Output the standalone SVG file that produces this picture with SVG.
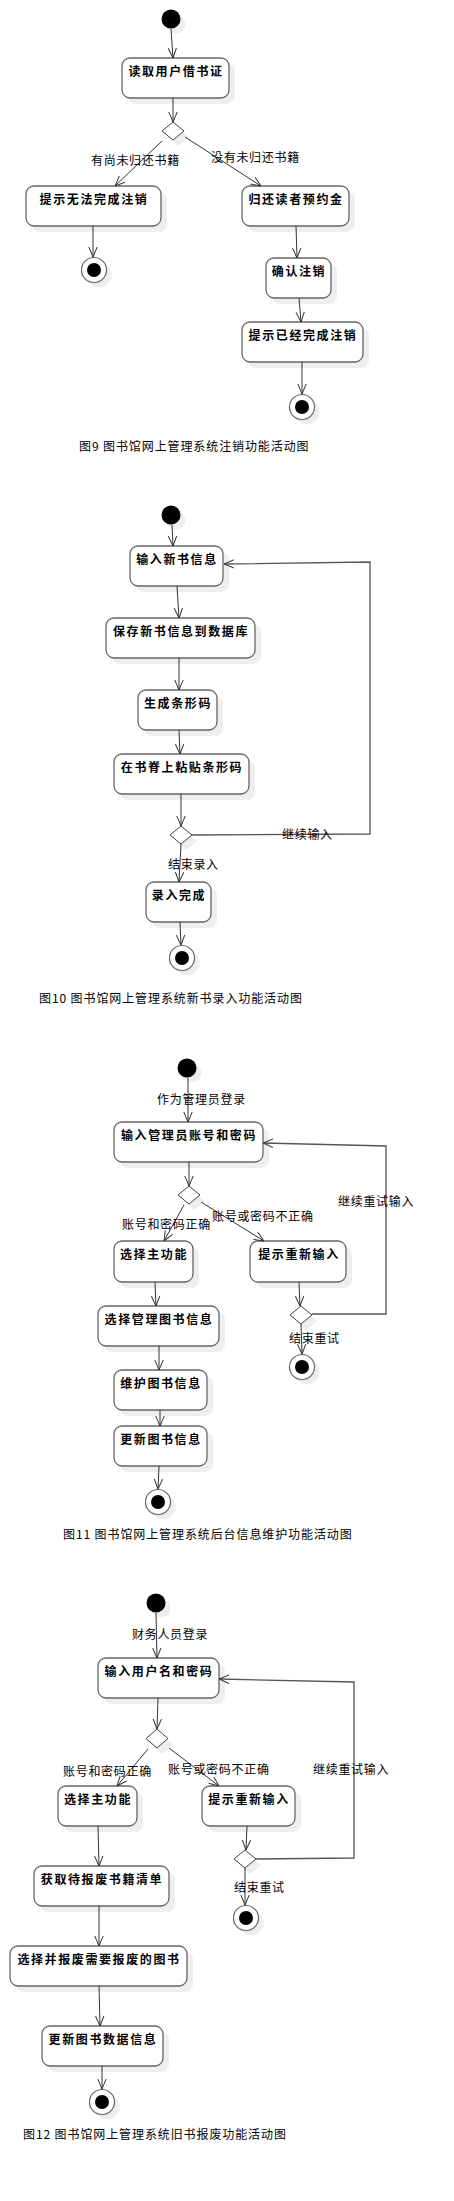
<svg xmlns="http://www.w3.org/2000/svg" width="454" height="2201" viewBox="0 0 454 2201">
<style>
.bg{fill:#fff}
.sh{fill:#eeeeee}
.nd{fill:#fff;stroke:#666;stroke-width:1.3}
.nt{font-family:"Noto Sans CJK SC","Liberation Sans",sans-serif;font-size:12px;font-weight:bold;fill:#000;text-anchor:middle;letter-spacing:1.6px}
.lb{font-family:"Noto Sans CJK SC","Liberation Sans",sans-serif;font-size:12px;fill:#000;letter-spacing:0.7px}
.cp{font-family:"Noto Sans CJK SC","Liberation Sans",sans-serif;font-size:12px;fill:#000;letter-spacing:0.9px}
.cn{fill:none;stroke:#333;stroke-width:1}
.lp{fill:none;stroke:#555;stroke-width:1.3}
.st{fill:#000}
.eo{fill:#fff;stroke:#666;stroke-width:1.2}
.dm{fill:#fff;stroke:#444;stroke-width:1}
</style>
<defs>
<marker id="arr" viewBox="0 0 10 10" refX="10" refY="5" markerWidth="10" markerHeight="10" orient="auto" markerUnits="userSpaceOnUse">
<path d="M0,0.8 L10,5 L0,9.2" fill="none" stroke="#333" stroke-width="1"/>
</marker>
</defs>
<rect class="bg" x="0" y="0" width="454" height="2201"/>

<!-- ===== Diagram 9 ===== -->
<g id="d9-start"><circle class="sh" cx="176" cy="24" r="9.5"/><circle class="st" cx="171" cy="19" r="9.5"/></g>
<g id="d9-n1"><rect class="sh" x="128" y="64" width="107" height="40" rx="8"/><rect class="nd" x="122" y="58" width="107" height="40" rx="8"/><text class="nt" x="176" y="76">读取用户借书证</text></g>
<g id="d9-dec"><polygon class="sh" points="178,128 189,137 178,146 167,137"/><polygon class="dm" points="173,122 184,131 173,140 162,131"/></g>
<g id="d9-n2"><rect class="sh" x="32" y="192" width="135" height="40" rx="8"/><rect class="nd" x="26" y="186" width="135" height="40" rx="8"/><text class="nt" x="94" y="204">提示无法完成注销</text></g>
<g id="d9-n3"><rect class="sh" x="248" y="192" width="107" height="40" rx="8"/><rect class="nd" x="242" y="186" width="107" height="40" rx="8"/><text class="nt" x="296" y="204">归还读者预约金</text></g>
<g id="d9-end1"><circle class="sh" cx="99" cy="275" r="12.5"/><circle class="eo" cx="94" cy="270" r="12.5"/><circle class="st" cx="94" cy="270" r="7"/></g>
<g id="d9-n4"><rect class="sh" x="272" y="264" width="65" height="40" rx="8"/><rect class="nd" x="266" y="258" width="65" height="40" rx="8"/><text class="nt" x="299" y="276">确认注销</text></g>
<g id="d9-n5"><rect class="sh" x="248" y="328" width="121" height="40" rx="8"/><rect class="nd" x="242" y="322" width="121" height="40" rx="8"/><text class="nt" x="303" y="340">提示已经完成注销</text></g>
<g id="d9-end2"><circle class="sh" cx="307" cy="412" r="12.5"/><circle class="eo" cx="302" cy="407" r="12.5"/><circle class="st" cx="302" cy="407" r="7"/></g>
<text class="cp" x="79" y="451">图9 图书馆网上管理系统注销功能活动图</text>

<!-- ===== Diagram 10 ===== -->
<g id="d10-start"><circle class="sh" cx="176" cy="520" r="9.5"/><circle class="st" cx="171" cy="515" r="9.5"/></g>
<g id="d10-n1"><rect class="sh" x="136" y="552" width="93" height="40" rx="8"/><rect class="nd" x="130" y="546" width="93" height="40" rx="8"/><text class="nt" x="177" y="564">输入新书信息</text></g>
<g id="d10-n2"><rect class="sh" x="112" y="624" width="149" height="40" rx="8"/><rect class="nd" x="106" y="618" width="149" height="40" rx="8"/><text class="nt" x="181" y="636">保存新书信息到数据库</text></g>
<g id="d10-n3"><rect class="sh" x="144" y="696" width="79" height="40" rx="8"/><rect class="nd" x="138" y="690" width="79" height="40" rx="8"/><text class="nt" x="178" y="708">生成条形码</text></g>
<g id="d10-n4"><rect class="sh" x="120" y="760" width="135" height="40" rx="8"/><rect class="nd" x="114" y="754" width="135" height="40" rx="8"/><text class="nt" x="182" y="772">在书脊上粘贴条形码</text></g>
<g id="d10-dec"><polygon class="sh" points="186,832 197,841 186,850 175,841"/><polygon class="dm" points="181,826 192,835 181,844 170,835"/></g>
<g id="d10-n5"><rect class="sh" x="152" y="888" width="65" height="40" rx="8"/><rect class="nd" x="146" y="882" width="65" height="40" rx="8"/><text class="nt" x="179" y="900">录入完成</text></g>
<g id="d10-end"><circle class="sh" cx="187" cy="963" r="12.5"/><circle class="eo" cx="182" cy="958" r="12.5"/><circle class="st" cx="182" cy="958" r="7"/></g>
<text class="cp" x="39" y="1003">图10 图书馆网上管理系统新书录入功能活动图</text>

<!-- ===== Diagram 11 ===== -->
<g id="d11-start"><circle class="sh" cx="192" cy="1073" r="9.5"/><circle class="st" cx="187" cy="1068" r="9.5"/></g>
<g id="d11-n1"><rect class="sh" x="120" y="1128" width="149" height="40" rx="8"/><rect class="nd" x="114" y="1122" width="149" height="40" rx="8"/><text class="nt" x="189" y="1140">输入管理员账号和密码</text></g>
<g id="d11-dec1"><polygon class="sh" points="194,1192 205,1201 194,1210 183,1201"/><polygon class="dm" points="189,1186 200,1195 189,1204 178,1195"/></g>
<g id="d11-n2"><rect class="sh" x="120" y="1247" width="79" height="41" rx="8"/><rect class="nd" x="114" y="1241" width="79" height="41" rx="8"/><text class="nt" x="154" y="1259">选择主功能</text></g>
<g id="d11-n3"><rect class="sh" x="256" y="1247" width="96" height="41" rx="8"/><rect class="nd" x="250" y="1241" width="96" height="41" rx="8"/><text class="nt" x="299" y="1259">提示重新输入</text></g>
<g id="d11-dec2"><polygon class="sh" points="306,1312 317,1321 306,1330 295,1321"/><polygon class="dm" points="301,1306 312,1315 301,1324 290,1315"/></g>
<g id="d11-end1"><circle class="sh" cx="307" cy="1372" r="12.5"/><circle class="eo" cx="302" cy="1367" r="12.5"/><circle class="st" cx="302" cy="1367" r="7"/></g>
<g id="d11-n4"><rect class="sh" x="104" y="1312" width="121" height="40" rx="8"/><rect class="nd" x="98" y="1306" width="121" height="40" rx="8"/><text class="nt" x="159" y="1324">选择管理图书信息</text></g>
<g id="d11-n5"><rect class="sh" x="120" y="1376" width="93" height="40" rx="8"/><rect class="nd" x="114" y="1370" width="93" height="40" rx="8"/><text class="nt" x="161" y="1388">维护图书信息</text></g>
<g id="d11-n6"><rect class="sh" x="120" y="1432" width="93" height="40" rx="8"/><rect class="nd" x="114" y="1426" width="93" height="40" rx="8"/><text class="nt" x="161" y="1444">更新图书信息</text></g>
<g id="d11-end2"><circle class="sh" cx="163" cy="1507" r="12.5"/><circle class="eo" cx="158" cy="1502" r="12.5"/><circle class="st" cx="158" cy="1502" r="7"/></g>
<text class="cp" x="63" y="1539">图11 图书馆网上管理系统后台信息维护功能活动图</text>

<!-- ===== Diagram 12 ===== -->
<g id="d12-start"><circle class="sh" cx="161" cy="1608" r="9.5"/><circle class="st" cx="156" cy="1603" r="9.5"/></g>
<g id="d12-n1"><rect class="sh" x="104" y="1664" width="121" height="40" rx="8"/><rect class="nd" x="98" y="1658" width="121" height="40" rx="8"/><text class="nt" x="159" y="1676">输入用户名和密码</text></g>
<g id="d12-dec1"><polygon class="sh" points="162,1735 173,1744.5 162,1754 151,1744.5"/><polygon class="dm" points="157,1729 168,1738.5 157,1748 146,1738.5"/></g>
<g id="d12-n2"><rect class="sh" x="64" y="1792" width="79" height="40" rx="8"/><rect class="nd" x="58" y="1786" width="79" height="40" rx="8"/><text class="nt" x="98" y="1804">选择主功能</text></g>
<g id="d12-n3"><rect class="sh" x="208" y="1792" width="93" height="40" rx="8"/><rect class="nd" x="202" y="1786" width="93" height="40" rx="8"/><text class="nt" x="249" y="1804">提示重新输入</text></g>
<g id="d12-dec2"><polygon class="sh" points="250,1856 261,1865 250,1874 239,1865"/><polygon class="dm" points="245,1850 256,1859 245,1868 234,1859"/></g>
<g id="d12-end1"><circle class="sh" cx="251" cy="1923" r="12.5"/><circle class="eo" cx="246" cy="1918" r="12.5"/><circle class="st" cx="246" cy="1918" r="7"/></g>
<g id="d12-n4"><rect class="sh" x="40" y="1872" width="135" height="40" rx="8"/><rect class="nd" x="34" y="1866" width="135" height="40" rx="8"/><text class="nt" x="102" y="1884">获取待报废书籍清单</text></g>
<g id="d12-n5"><rect class="sh" x="16" y="1952" width="177" height="40" rx="8"/><rect class="nd" x="10" y="1946" width="177" height="40" rx="8"/><text class="nt" x="99" y="1964">选择并报废需要报废的图书</text></g>
<g id="d12-n6"><rect class="sh" x="48" y="2032" width="121" height="40" rx="8"/><rect class="nd" x="42" y="2026" width="121" height="40" rx="8"/><text class="nt" x="103" y="2044">更新图书数据信息</text></g>
<g id="d12-end2"><circle class="sh" cx="107" cy="2107" r="12.5"/><circle class="eo" cx="102" cy="2102" r="12.5"/><circle class="st" cx="102" cy="2102" r="7"/></g>
<text class="cp" x="23" y="2139">图12 图书馆网上管理系统旧书报废功能活动图</text>

<!-- ===== Connectors ===== -->
<g id="connectors">
<path class="cn" d="M171,29 L173,58" marker-end="url(#arr)"/>
<path class="cn" d="M173,98 L173,122" marker-end="url(#arr)"/>
<path class="cn" d="M162,141 L115,186" marker-end="url(#arr)"/>
<path class="cn" d="M185,137 L261,186" marker-end="url(#arr)"/>
<path class="cn" d="M93,226 L93,257" marker-end="url(#arr)"/>
<path class="cn" d="M296,226 L297,258" marker-end="url(#arr)"/>
<path class="cn" d="M299,298 L301,322" marker-end="url(#arr)"/>
<path class="cn" d="M302,362 L302,394" marker-end="url(#arr)"/>

<path class="cn" d="M172,525 L173,546" marker-end="url(#arr)"/>
<path class="cn" d="M177,586 L179,618" marker-end="url(#arr)"/>
<path class="cn" d="M179,658 L179,690" marker-end="url(#arr)"/>
<path class="cn" d="M179,730 L180,754" marker-end="url(#arr)"/>
<path class="cn" d="M181,794 L181,826" marker-end="url(#arr)"/>
<path class="lp" d="M192,835 L370,834 L370,562 L224,564" marker-end="url(#arr)"/>
<path class="cn" d="M181,844 L179,882" marker-end="url(#arr)"/>
<path class="cn" d="M180,922 L181,945" marker-end="url(#arr)"/>

<path class="cn" d="M188,1078 L188,1122" marker-end="url(#arr)"/>
<path class="cn" d="M189,1162 L189,1186" marker-end="url(#arr)"/>
<path class="cn" d="M184,1205 L164,1241" marker-end="url(#arr)"/>
<path class="cn" d="M201,1202 L264,1241" marker-end="url(#arr)"/>
<path class="cn" d="M299,1282 L300,1306" marker-end="url(#arr)"/>
<path class="lp" d="M312,1314 L386,1314 L386,1146 L263,1143" marker-end="url(#arr)"/>
<path class="cn" d="M301,1324 L302,1354" marker-end="url(#arr)"/>
<path class="cn" d="M155,1282 L156,1306" marker-end="url(#arr)"/>
<path class="cn" d="M159,1346 L159,1370" marker-end="url(#arr)"/>
<path class="cn" d="M160,1410 L160,1426" marker-end="url(#arr)"/>
<path class="cn" d="M159,1466 L158,1489" marker-end="url(#arr)"/>

<path class="cn" d="M156,1613 L157,1658" marker-end="url(#arr)"/>
<path class="cn" d="M158,1698 L157,1729" marker-end="url(#arr)"/>
<path class="cn" d="M148,1749 L117,1786" marker-end="url(#arr)"/>
<path class="cn" d="M169,1748 L219,1786" marker-end="url(#arr)"/>
<path class="cn" d="M247,1826 L246,1850" marker-end="url(#arr)"/>
<path class="lp" d="M256,1859 L354,1858 L354,1682 L219,1679" marker-end="url(#arr)"/>
<path class="cn" d="M245,1868 L245,1905" marker-end="url(#arr)"/>
<path class="cn" d="M98,1826 L99,1866" marker-end="url(#arr)"/>
<path class="cn" d="M99,1906 L99,1946" marker-end="url(#arr)"/>
<path class="cn" d="M99,1986 L100,2026" marker-end="url(#arr)"/>
<path class="cn" d="M102,2066 L102,2089" marker-end="url(#arr)"/>
</g>

<!-- ===== Connector labels ===== -->
<g id="labels">
<text class="lb" x="91" y="165">有尚未归还书籍</text>
<text class="lb" x="211" y="162">没有未归还书籍</text>
<text class="lb" x="282" y="839">继续输入</text>
<text class="lb" x="168" y="869">结束录入</text>
<text class="lb" x="157" y="1104">作为管理员登录</text>
<text class="lb" x="122" y="1229">账号和密码正确</text>
<text class="lb" x="212" y="1221">账号或密码不正确</text>
<text class="lb" x="338" y="1206">继续重试输入</text>
<text class="lb" x="289" y="1343">结束重试</text>
<text class="lb" x="132" y="1639">财务人员登录</text>
<text class="lb" x="63" y="1776">账号和密码正确</text>
<text class="lb" x="168" y="1774">账号或密码不正确</text>
<text class="lb" x="313" y="1774">继续重试输入</text>
<text class="lb" x="234" y="1892">结束重试</text>
</g>
</svg>
